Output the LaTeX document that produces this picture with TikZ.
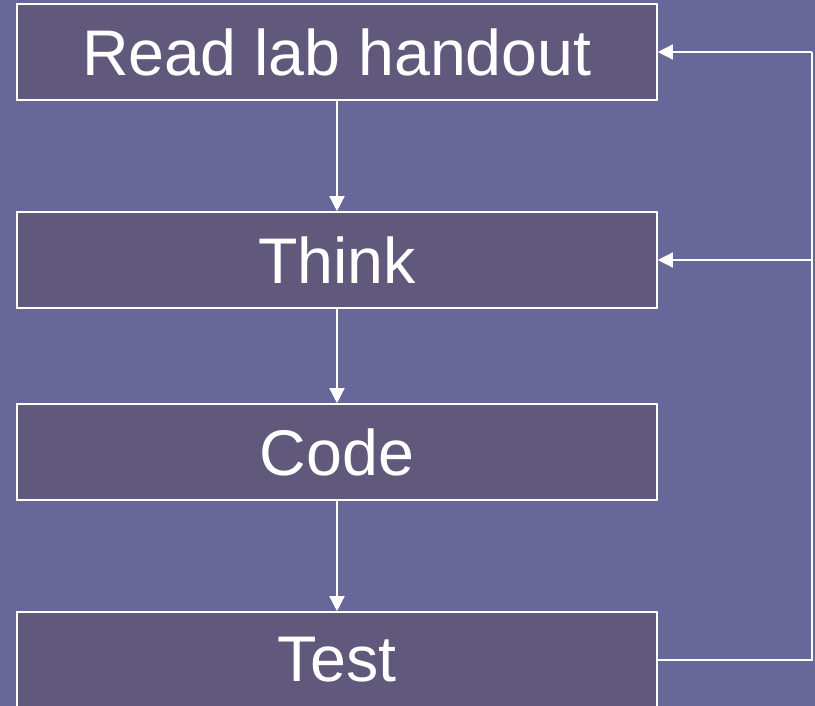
\documentclass[tikz,border=0pt]{standalone}
\usepackage{fontspec}
\setmainfont{Liberation Sans}
\usetikzlibrary{arrows.meta}
\definecolor{slide}{RGB}{103,104,153}
\definecolor{boxfill}{RGB}{97,89,124}
\tikzset{
  stepbox/.style={draw=white, fill=boxfill, line width=1.6pt, minimum width=640pt,
    minimum height=96pt, inner sep=0pt, text=white, font=\fontsize{64.5}{72}\selectfont},
  flow/.style={draw=white, line width=1.4pt, -{Triangle[length=15pt,width=15pt]}},
  link/.style={draw=white, line width=1.4pt}
}
\begin{document}
\begin{tikzpicture}[x=1pt,y=-1pt]
  \clip (0,0) rectangle (815,706);
  \fill[slide] (0,0) rectangle (815,706);

  \node[stepbox] (read)  at (337,52)  {Read lab handout};
  \node[stepbox] (think) at (337,260) {Think};
  \node[stepbox] (code)  at (337,452) {Code};
  \node[stepbox] (test)  at (337,660) {Test};

  \draw[flow] (read)  -- (think);
  \draw[flow] (think) -- (code);
  \draw[flow] (code)  -- (test);

  % feedback loop from Test back to the earlier steps
  \coordinate (bot) at (812,660);
  \coordinate (mid) at (812,260);
  \coordinate (top) at (812,52);
  \draw[link] (test.east) -- (bot) -- (top);
  \draw[flow] (top) -- (read.east);
  \draw[flow] (mid) -- (think.east);
\end{tikzpicture}
\end{document}
